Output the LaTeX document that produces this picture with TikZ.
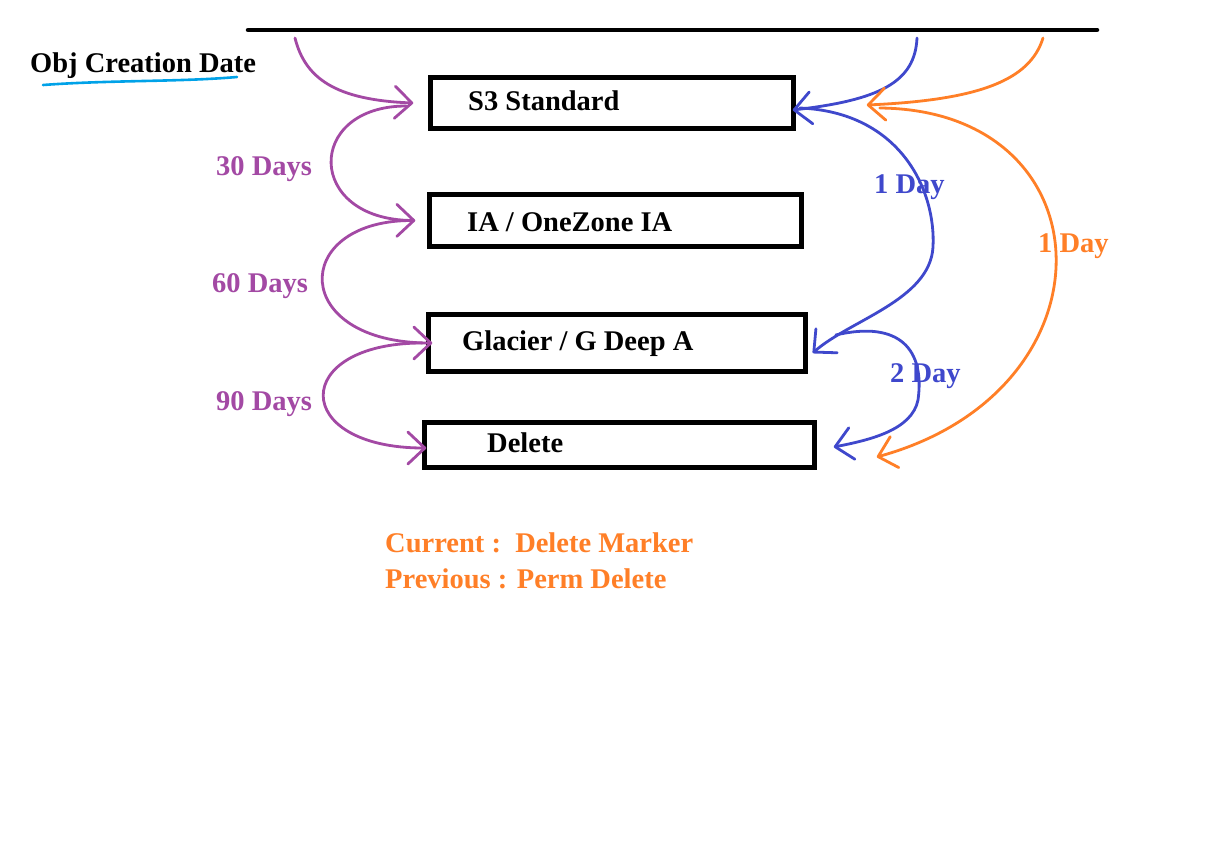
\documentclass[tikz,border=0pt]{standalone}
\usepackage{fontspec}
\setmainfont{Liberation Serif}
\usetikzlibrary{arrows.meta}
\definecolor{ppurple}{RGB}{163,73,164}
\definecolor{pblue}{RGB}{63,72,204}
\definecolor{porange}{RGB}{255,127,39}
\definecolor{pturq}{RGB}{0,162,232}
\tikzset{
  box/.style={draw=black, line width=4.5pt, inner sep=0pt},
  lbl/.style={anchor=base west, inner sep=0pt, font=\fontsize{28.5}{34}\selectfont\bfseries},
  curve/.style={line width=2.8pt, line cap=round, line join=round,
    -{Straight Barb[length=17pt 0, width=32pt 0, line cap=round, line join=round]}},
  pcurve/.style={curve, draw=ppurple},
  bcurve/.style={curve, draw=pblue},
  ocurve/.style={curve, draw=porange}
}
\begin{document}
\begin{tikzpicture}[x=1pt,y=-1pt]
\useasboundingbox[fill=white] (0,0) rectangle (1220,844);
% top line
\draw[line width=4.5pt, line cap=round] (248,30) -- (1097,30);
% title
\node[lbl] (title) at (30,72) {Obj Creation Date};
\draw[pturq, line width=2.6pt, line cap=round] (43,85) .. controls (110,80) and (180,82) .. (237,77);
% boxes
\node[box, minimum width=363pt, minimum height=51pt] (s3) at (612,103) {};
\node[box, minimum width=372pt, minimum height=52pt] (ia) at (615.5,220.5) {};
\node[box, minimum width=377pt, minimum height=57pt] (gl) at (617,343) {};
\node[box, minimum width=390pt, minimum height=45pt] (del) at (619.5,445) {};
\node[lbl] (s3t) at (468,110) {S3 Standard};
\node[lbl] (iat) at (467,231) {IA / OneZone IA};
\node[lbl] (glt) at (462,350) {Glacier / G Deep A};
\node[lbl] (delt) at (487,452) {Delete};
% start coordinates on the top line
\coordinate (pstart) at (295,38);
\coordinate (bstart) at (917,38);
\coordinate (ostart) at (1043,38);
% purple transitions
\draw[pcurve] (pstart) .. controls (305,78) and (335,100) .. ([xshift=-15]s3.west);
\draw[pcurve] ([shift={(-22,3)}]s3.west) .. controls (305,106) and (305,220) .. ([xshift=-12]ia.west);
\draw[pcurve] ([shift={(-18,0)}]ia.west) .. controls (290,222) and (290,343) .. ([xshift=6]gl.west);
\draw[pcurve] ([shift={(-4,0)}]gl.west) .. controls (290,343) and (290,448) .. ([shift={(4,3)}]del.west);
\node[lbl, text=ppurple] (d30) at (216,175) {30 Days};
\node[lbl, text=ppurple] (d60) at (212,292) {60 Days};
\node[lbl, text=ppurple] (d90) at (216,410) {90 Days};
% blue
\draw[bcurve] (bstart) .. controls (915,82) and (880,100) .. ([shift={(-3,7)}]s3.east);
\draw[bcurve] ([shift={(4,5)}]s3.east) .. controls (900,112) and (936,190) .. (933,247)
  .. controls (930,300) and (850,320) .. ([shift={(5,10)}]gl.east);
\draw[bcurve] ([shift={(28,-8)}]gl.east) .. controls (900,320) and (925,350) .. (918,400)
  .. controls (912,430) and (870,440) .. ([shift={(17,2)}]del.east);
\node[lbl, text=pblue] (b1) at (874,193) {1 Day};
\node[lbl, text=pblue] (b2) at (890,382) {2 Day};
% orange
\draw[ocurve] (ostart) .. controls (1030,80) and (980,100) .. ([shift={(71,2)}]s3.east);
\draw[ocurve] ([shift={(84,5)}]s3.east) .. controls (1110,110) and (1120,390) .. ([shift={(60,12)}]del.east);
\node[lbl, text=porange] (o1) at (1038,252) {1 Day};
% notes
\node[lbl, text=porange] (cur) at (385,552) {Current :\ \ Delete Marker};
\node[lbl, text=porange] (prev) at (385,588) {Previous : Perm Delete};
\end{tikzpicture}
\end{document}
